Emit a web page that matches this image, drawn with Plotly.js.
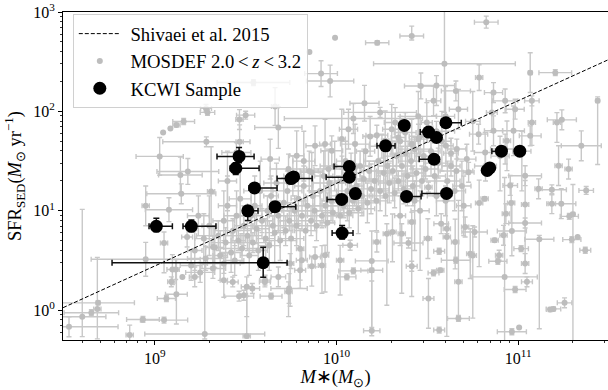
<!DOCTYPE html>
<html>
<head>
<meta charset="utf-8">
<script src="https://cdn.plot.ly/plotly-3.0.1.min.js"></script>
<style>html,body{margin:0;padding:0;background:#fff;}#chart{width:608px;height:390px;}</style>
</head>
<body>
<div id="chart"></div>
<script>
// ---- Shivaei et al. 2015 relation (end points) ----
const shivaeiMass = [3.13e8, 3.12e11];
const shivaeiSFR = [1.06, 330];

// ---- MOSDEF 2.0<z<3.2 sample (log10 values; errors in dex) ----
const mosdefLogMass = [
9.282,9.29,9.046,9.086,9.119,9.159,9.027,9.141,9.467,9.449,
9.284,9.50,9.466,9.543,9.182,9.31,9.078,9.146,8.95,9.40,
9.992,9.851,10.224,10.414,9.915,9.965,10.154,10.464,9.662,9.680,
10.093,10.594,10.066,10.323,10.24,10.45,9.635,9.781,9.82,9.882,
9.937,9.974,10.029,10.102,10.185,10.222,10.268,10.304,10.341,10.378,
10.414,10.451,10.497,9.736,9.864,9.956,10.102,10.824,11.066,11.204,
11.437,10.785,10.864,10.928,10.983,11.075,11.075,11.240,11.213,11.347,
11.277,11.222,11.066,11.038,10.938,10.864,10.818,10.782,10.727,10.657,
10.534,10.671,10.602,10.662,10.717,10.855,10.928,10.974,10.55,10.60,
10.75,10.90,11.02,10.55,10.63,10.82,11.374,11.237,11.281,11.301,
11.327,11.295,11.369,11.185,11.116,11.038,11.038,11.038,11.048,10.983,
11.016,10.965,10.961,10.932,10.925,10.919,10.870,10.895,10.888,10.815,
10.785,10.760,10.736,10.708,10.671,10.671,10.657,10.653,10.607,10.607,
10.565,10.571,10.534,10.506,10.565,10.503,10.576,10.965,11.005,11.176,
11.194,11.255,10.75,10.506,10.956,11.112,11.185,10.55,10.60,10.65,
10.70,10.194,10.093,10.057,10.194,10.194,10.414,10.396,10.308,10.277,
10.359,10.414,10.222,10.075,9.937,9.882,9.809,9.745,9.739,9.640,
9.680,9.607,9.537,9.506,9.506,9.736,9.800,9.864,10.020,9.800,
10.46,10.43,10.35,9.92,9.38,9.429,9.606,8.528,8.601,8.651,
8.684,8.688,8.950,8.862,8.935,9.051,9.097,9.115,9.091,9.064,
9.119,9.152,9.275,9.220,9.178,9.321,9.464,9.49,9.051,9.20,
9.22,9.25,9.27,9.28,9.30,9.24,9.32,9.33,9.35,9.36,
9.38,9.38,9.40,9.39,9.42,9.43,9.44,9.45,9.46,9.47,
9.48,9.49,9.51,9.52,9.53,9.54,9.55,9.56,9.57,9.58,
9.59,9.61,9.62,9.63,9.64,9.65,9.66,9.67,9.68,9.69,
9.71,9.72,9.73,9.74,9.75,9.76,9.77,9.78,9.79,9.81,
9.82,9.83,9.84,9.85,9.86,9.87,9.88,9.89,9.91,9.92,
9.93,9.94,9.95,9.96,9.97,9.98,9.99,10.01,10.02,10.03,
10.04,10.05,10.06,10.07,10.08,10.09,10.11,10.12,10.13,10.14,
10.15,10.16,10.17,10.18,10.19,10.21,10.22,10.23,10.24,10.25,
10.26,10.27,10.28,10.29,10.31,10.32,10.33,10.34,10.35,10.36,
10.37,10.38,10.39,10.41,10.42,10.43,10.44,10.46,10.47,10.48,
10.49,10.52,10.54,10.56,10.58,10.61,10.63,10.66,10.69
];
const mosdefLogSFR = [
2.03,1.99,1.787,1.828,1.862,1.898,1.547,1.360,1.694,1.587,
1.694,1.962,1.918,2.29,1.396,1.195,1.011,1.171,1.05,1.30,
2.741,2.597,2.691,2.758,2.380,2.306,2.082,2.256,2.049,1.838,
1.928,2.480,1.821,1.888,1.99,1.95,1.520,1.554,1.50,1.654,
1.671,1.604,1.721,1.671,1.748,1.761,1.704,1.821,1.738,1.788,
1.671,1.721,1.888,1.420,1.387,1.420,1.437,2.898,2.390,2.390,
2.106,2.340,2.189,2.106,2.022,2.106,1.888,1.915,1.888,1.654,
1.420,1.454,1.754,1.353,1.704,1.805,1.587,1.771,1.387,2.206,
2.106,2.022,1.654,1.621,1.520,1.989,1.621,1.805,2.26,1.95,
1.90,1.55,1.60,1.80,1.45,1.45,1.205,1.071,0.944,0.964,
0.736,0.710,0.603,1.071,0.713,1.064,0.877,0.469,0.285,0.208,
0.619,0.797,1.078,0.971,0.335,0.753,0.703,0.553,0.492,1.121,
1.078,0.787,0.569,0.837,0.285,-0.083,0.502,0.686,0.820,0.736,
0.593,0.402,0.375,0.118,-0.200,0.720,0.870,-0.217,-0.173,0.007,
0.013,0.074,0.55,1.238,1.255,1.221,1.211,1.15,1.10,1.20,
1.05,-0.207,0.395,0.335,0.496,0.402,0.442,0.676,0.787,0.770,
0.770,0.887,0.686,0.653,0.553,0.536,0.502,0.469,0.218,0.141,
0.335,0.302,0.218,0.235,-0.260,0.185,0.402,0.442,0.502,0.619,
1.0,1.1,0.95,0.45,0.30,0.284,0.284,-0.167,-0.066,-0.026,
0.011,0.074,0.512,-0.250,-0.093,0.676,0.409,0.409,0.285,0.118,
0.161,0.335,-0.240,0.335,0.736,0.636,0.141,0.15,-0.100,0.45,
0.60,0.38,0.72,0.52,0.85,0.95,0.42,0.63,0.75,0.55,
0.90,0.47,1.05,0.68,0.58,0.80,0.50,0.95,0.70,1.12,
0.62,0.85,0.75,0.55,0.95,0.68,1.05,0.82,0.60,1.20,
0.90,0.72,1.00,0.65,1.15,0.85,0.78,1.28,0.95,0.70,
1.08,0.80,1.20,0.90,0.72,1.35,1.00,0.85,1.12,0.95,
1.25,0.80,1.05,1.40,0.90,1.15,1.00,0.85,1.20,0.95,
1.35,1.05,0.88,1.28,1.10,0.98,1.45,1.15,0.95,1.30,
1.05,1.50,1.20,0.98,1.38,1.10,1.25,1.02,1.45,1.15,
1.32,1.60,1.08,1.40,1.22,1.30,1.10,1.50,1.20,1.65,
1.38,1.15,1.45,1.28,1.40,1.18,1.55,1.30,1.70,1.45,
1.22,1.58,1.35,1.50,1.25,1.62,1.38,1.75,1.30,1.55,
1.42,1.60,1.35,1.48,1.70,1.30,1.58,1.40,1.25
];
const mosdefMassErrDex = [
0.03,0.04,0,0,0.02,0.06,0.13,0.12,0.02,0.08,
0.24,0.05,0.02,0.2,0.17,0.02,0.13,0.19,0.02,0.05,
0,0,0.064,0.065,0.09,0.13,0.08,0.09,0.02,0.13,
0.38,0.39,0.05,0.06,0.2,0.1,0.05,0.04,0.06,0.05,
0.03,0.06,0.02,0.08,0.04,0.06,0.02,0.05,0.04,0.06,
0.02,0.05,0.03,0.1,0.06,0.08,0.05,0.065,0.01,0.09,
0.01,0.02,0.05,0.07,0.05,0.04,0.02,0.08,0.02,0.11,
0.02,0.02,0.06,0.09,0.02,0.05,0.06,0.05,0.03,0.08,
0.04,0.05,0.04,0.05,0.05,0.03,0.08,0.06,0.1,0.05,
0.04,0.05,0.05,0.1,0.05,0.06,0.04,0.08,0.05,0.01,
0,0.05,0.03,0.02,0.08,0.02,0.09,0.02,0.03,0.06,
0.04,0.08,0.02,0.02,0.18,0.02,0.02,0.02,0.05,0.02,
0.02,0.07,0.02,0.02,0.02,0.06,0.08,0.02,0.02,0.02,
0.03,0.02,0.03,0.03,0.03,0.02,0.04,0.08,0,0.02,
0.04,0.04,0.02,0.02,0.04,0.02,0.08,0.05,0.05,0.06,
0.04,0.045,0.08,0.05,0.09,0.06,0.03,0.08,0.02,0.02,
0.02,0.02,0.02,0.04,0.02,0.03,0.03,0.02,0.1,0.06,
0.04,0.03,0.04,0.03,0.02,0.02,0.03,0.02,0.02,0.02,
0.05,0.03,0.03,0.02,0.02,0.03,0.03,0.27,0.13,0.15,
0.02,0.2,0.3,0.02,0.09,0.02,0.03,0.02,0.02,0.05,
0.06,0,0.33,0.03,0.03,0.02,0.08,0.02,0.13,0.06,
0.04,0.08,0.05,0.1,0.04,0.06,0.07,0.05,0.12,0.04,
0.06,0.09,0.05,0.08,0.06,0.1,0.05,0.07,0.04,0.06,
0.12,0.05,0.08,0.05,0.06,0.1,0.04,0.07,0.05,0.09,
0.06,0.05,0.08,0.06,0.04,0.11,0.05,0.07,0.05,0.09,
0.06,0.04,0.08,0.05,0.07,0.05,0.1,0.06,0.04,0.08,
0.05,0.06,0.09,0.05,0.07,0.04,0.1,0.05,0.06,0.08,
0.05,0.07,0.04,0.09,0.05,0.06,0.08,0.05,0.07,0.04,
0.1,0.05,0.06,0.08,0.05,0.07,0.04,0.09,0.05,0.06,
0.08,0.05,0.07,0.04,0.1,0.05,0.06,0.08,0.05,0.07,
0.04,0.09,0.05,0.06,0.08,0.05,0.07,0.04,0.1,0.05,
0.06,0.08,0.05,0.07,0.04,0.09,0.05,0.06,0.08,0.05,
0.07,0.05,0.06,0.08,0.05,0.07,0.04,0.09,0.05
];
const mosdefSFRErrLoDex = [
0.03,0.03,0,0,0.02,0.03,0.19,0.18,0.17,0.1,
0.05,0.04,0.1,0.03,0.13,0.45,0.12,0.1,0.2,0.3,
0,0,0.02,0.04,0.13,0.16,0.18,0.13,0.19,0.21,
0.15,0.49,0.2,0.15,0.05,0.25,0.2,0.25,0.2,0.2,
0.25,0.15,0.3,0.2,0.2,0.1,0.3,0.25,0.15,0.2,
0.25,0.15,0.2,0.15,0.2,0.2,0.25,0.06,0.2,0.03,
0.64,0.13,0.1,0.12,0.1,0.05,0.23,0.1,0.2,0.15,
0.1,0.2,0.1,0.1,0.3,0.15,0.2,0.1,0.1,0.1,
0.15,0.2,0.2,0.1,0.15,0.2,0.15,0.25,0.2,0.3,
0.3,0.35,0.4,0.1,0.1,0.15,0.04,0.15,0.03,1.3,
0,0.03,0.03,0.1,0.9,0.6,0.05,0.1,0.05,0.03,
0.03,0.25,0.2,0.1,0.65,0.1,0.02,0.05,0.03,0.02,
0.64,0.05,0.25,0.1,0.35,0.03,0.03,0.27,0.05,1.0,
0.03,0.02,0.03,0.3,0.03,0.2,0.1,0.03,0,0.02,
0.02,0.05,0.63,0.05,0.1,0.1,0.05,0.2,0.15,0.2,
0.3,0.05,0.03,0.03,0.67,0.02,0.05,0.05,0.3,0.72,
0.6,0.75,0.1,0.05,0.37,0.1,0.1,0.43,0.15,0.03,
0.1,0.05,0.05,0.3,0.02,0.25,0.1,0.2,0.35,0.4,
0.6,0.5,0.3,0.28,0.17,0.05,0.05,0.1,0.2,0.03,
0.3,0.02,0.17,0.1,0.03,0.3,0.15,0.1,0.05,0.03,
0.3,0,0.05,0.1,0.1,0.2,0.05,0.05,0.03,0.15,
0.2,0.1,0.25,0.12,0.3,0.2,0.1,0.2,0.15,0.25,
0.2,0.1,0.3,0.15,0.2,0.12,0.15,0.25,0.1,0.3,
0.15,0.2,0.15,0.2,0.25,0.1,0.3,0.15,0.2,0.2,
0.12,0.2,0.15,0.25,0.2,0.1,0.3,0.2,0.15,0.2,
0.25,0.15,0.2,0.1,0.3,0.2,0.15,0.2,0.25,0.15,
0.2,0.3,0.1,0.2,0.15,0.25,0.2,0.15,0.2,0.12,
0.25,0.2,0.3,0.15,0.2,0.1,0.25,0.2,0.15,0.25,
0.12,0.2,0.3,0.15,0.2,0.1,0.2,0.25,0.15,0.2,
0.3,0.15,0.2,0.1,0.25,0.2,0.3,0.15,0.2,0.12,
0.25,0.2,0.15,0.2,0.3,0.15,0.2,0.1,0.25,0.2,
0.15,0.2,0.3,0.15,0.2,0.12,0.25,0.2,0.15,0.2,
0.1,0.25,0.2,0.15,0.3,0.2,0.15,0.2,0.25
];
const mosdefSFRErrHiDex = [
0.04,0.03,0,0,0.02,0.03,0.19,0.18,0.17,0.1,
0.05,0.04,0.1,0.03,0.13,0.45,0.12,0.1,0.2,0.3,
0,0,0.02,0.1,0.13,0.16,0.18,0.13,0.19,0.21,
0.15,0.55,0.2,0.15,0.05,0.25,0.2,0.25,0.3,0.2,
0.25,0.15,0.3,0.2,0.2,0.1,0.3,0.25,0.15,0.2,
0.25,0.15,0.2,0.15,0.2,0.2,0.25,0.06,0.2,0.03,
0.04,0.13,0.1,0.12,0.1,0.05,0.23,0.1,0.1,0.15,
0.1,0.2,0.1,0.1,0.2,0.15,0.2,0.1,0.1,0.1,
0.15,0.2,0.2,0.1,0.15,0.2,0.15,0.25,0.1,0.3,
0.3,0.2,0.2,0.1,0.1,0.15,0.04,0.15,0.03,0.3,
0,0.03,0.03,0.1,0.04,0.24,0.05,0.1,0.05,0.03,
0.03,0.3,0.2,0.1,1.0,0.1,0.02,0.05,0.03,0.02,
0.23,0.05,0.25,0.1,0.82,0.03,0.03,0.23,0.05,0.55,
0.03,0.02,0.03,0.2,0.03,0.2,0.1,0.03,0,0.02,
0.02,0.05,0.3,0.05,0.1,0.1,0.05,0.2,0.15,0.2,
0.3,0.5,0.03,0.03,0.3,0.02,0.05,0.05,0.18,0.1,
0.1,0.1,0.1,0.05,0.1,0.1,0.1,0.1,0.15,0.03,
0.1,0.05,0.05,0.1,0.4,0.1,0.1,0.1,0.15,0.2,
0.2,0.2,0.2,0.2,0.15,0.05,0.05,0.1,1.08,0.03,
0.52,0.02,0.17,0.1,0.03,0.11,0.15,0.1,0.05,0.03,
0.35,0,0.7,0.1,0.1,0.2,0.05,0.05,0.03,0.15,
0.2,0.1,0.25,0.12,0.3,0.2,0.1,0.2,0.15,0.25,
0.3,0.1,0.3,0.15,0.2,0.12,0.15,0.25,0.1,0.3,
0.15,0.2,0.15,0.2,0.25,0.1,0.3,0.15,0.2,0.3,
0.12,0.2,0.15,0.25,0.2,0.1,0.3,0.2,0.15,0.2,
0.25,0.15,0.2,0.1,0.3,0.2,0.15,0.2,0.25,0.15,
0.2,0.3,0.1,0.2,0.15,0.25,0.2,0.15,0.2,0.12,
0.25,0.2,0.3,0.15,0.2,0.1,0.25,0.2,0.15,0.25,
0.12,0.2,0.3,0.15,0.2,0.1,0.2,0.25,0.15,0.2,
0.3,0.15,0.2,0.1,0.25,0.2,0.3,0.15,0.2,0.12,
0.25,0.2,0.15,0.2,0.3,0.15,0.2,0.1,0.25,0.2,
0.15,0.2,0.3,0.15,0.2,0.12,0.25,0.2,0.15,0.2,
0.1,0.25,0.2,0.15,0.3,0.2,0.15,0.2,0.25
];

// ---- KCWI sample ----
const kcwiMass = [1.02e9,1.59e9,2.91e9,2.79e9,5.62e9,5.81e9,3.54e9,3.25e9,4.59e9,3.95e9,1.074e10,1.067e10,1.27e10,1.176e10,1.176e10,1.862e10,2.36e10,3.21e10,3.55e10,4.0e10,3.44e10,2.43e10,4.03e10,6.75e10,6.97e10,8.08e10,1.02e11];
const kcwiSFR = [6.97,6.97,35.2,26.8,21.1,21.9,17.0,10.0,11.0,3.0,5.97,13.0,14.9,27.9,21.8,45.0,72.3,62.0,54.6,76.9,33.0,13.95,14.95,25.5,27.0,39.8,39.8];
const kcwiMassLo = [9.3e8,1.43e9,2.2e9,2.6e9,4.71e9,5.81e9,3.3e9,3.05e9,4.3e9,5.82e8,9.46e9,8.87e9,1.27e10,9.7e9,8.77e9,1.67e10,2.36e10,2.89e10,3.55e10,3.75e10,2.85e10,2.28e10,2.95e10,6.75e10,6.97e10,7.16e10,1.02e11];
const kcwiMassHi = [1.25e9,2.17e9,3.52e9,3.75e9,7.35e9,5.81e9,4.71e9,3.7e9,5.97e9,5.35e9,1.233e10,1.14e10,1.27e10,1.25e10,1.25e10,2.1e10,2.36e10,3.42e10,3.55e10,4.86e10,3.66e10,2.92e10,4.3e10,6.75e10,6.97e10,8.6e10,1.02e11];
const kcwiSFRLo = [6.2,6.2,30.5,23.2,21.1,21.9,17.0,8.0,11.0,2.14,5.2,13.0,14.9,27.9,21.8,45.0,72.3,62.0,54.6,76.9,33.0,13.95,14.95,25.5,27.0,39.8,39.8];
const kcwiSFRHi = [8.4,8.1,43.3,30.5,21.1,21.9,17.0,11.2,11.0,4.29,7.13,13.0,14.9,27.9,21.8,45.0,72.3,62.0,54.6,76.9,33.0,13.95,14.95,25.5,27.0,39.8,39.8];

// ---- tick labels ----
const xTickVals = [1e9, 1e10, 1e11];
const xTickText = ['10<sup>9</sup>', '10<sup>10</sup>', '10<sup>11</sup>'];
const yTickVals = [1, 10, 100, 1000];
const yTickText = ['10<sup>0</sup>', '10<sup>1</sup>', '10<sup>2</sup>', '10<sup>3</sup>'];

// ---- build traces ----
const pw = v => Math.pow(10, v);
const mX = mosdefLogMass.map(pw);
const mY = mosdefLogSFR.map(pw);
const mXp = mosdefLogMass.map((v,i) => pw(v + mosdefMassErrDex[i]) - pw(v));
const mXm = mosdefLogMass.map((v,i) => pw(v) - pw(v - mosdefMassErrDex[i]));
const mYp = mosdefLogSFR.map((v,i) => pw(v + mosdefSFRErrHiDex[i]) - pw(v));
const mYm = mosdefLogSFR.map((v,i) => pw(v) - pw(v - mosdefSFRErrLoDex[i]));

const serif = 'Liberation Serif, Times New Roman, serif';
const thin = '\u2009';

const traces = [
  {
    type: 'scatter', mode: 'markers', name: '&nbsp;MOSDEF 2.0' + thin + '&lt;' + thin + '<i>z</i>' + thin + '&lt;' + thin + '3.2', legendrank: 2,
    x: mX, y: mY, hoverinfo: 'skip',
    marker: {color: '#bdbdbd', size: 6},
    error_x: {type: 'data', symmetric: false, array: mXp, arrayminus: mXm, color: '#c8c8c8', thickness: 1.4, width: 2.5},
    error_y: {type: 'data', symmetric: false, array: mYp, arrayminus: mYm, color: '#c8c8c8', thickness: 1.4, width: 2.5}
  },
  {
    type: 'scatter', mode: 'lines', name: '&nbsp;Shivaei et al. 2015', legendrank: 1,
    x: shivaeiMass, y: shivaeiSFR, hoverinfo: 'skip',
    line: {color: 'black', width: 1, dash: '4px,2px'}
  },
  {
    type: 'scatter', mode: 'markers', name: '&nbsp;KCWI Sample', legendrank: 3,
    x: kcwiMass, y: kcwiSFR, hoverinfo: 'skip',
    marker: {color: 'black', size: 13},
    error_x: {type: 'data', symmetric: false,
      array: kcwiMass.map((v,i) => kcwiMassHi[i] - v),
      arrayminus: kcwiMass.map((v,i) => v - kcwiMassLo[i]),
      color: '#111', thickness: 1.5, width: 3},
    error_y: {type: 'data', symmetric: false,
      array: kcwiSFR.map((v,i) => kcwiSFRHi[i] - v),
      arrayminus: kcwiSFR.map((v,i) => v - kcwiSFRLo[i]),
      color: '#111', thickness: 1.5, width: 3}
  }
];

function minorVals(d0, d1) {
  const out = [];
  for (let d = d0; d <= d1; d++) for (let k = 2; k <= 9; k++) out.push(k * Math.pow(10, d));
  return out;
}

const axisCommon = {
  type: 'log', showline: true, linecolor: 'black', linewidth: 1, mirror: true,
  ticks: 'outside', ticklen: 4, tickwidth: 1, tickcolor: 'black',
  showgrid: false, zeroline: false, tickmode: 'array',
  tickfont: {family: serif, size: 16, color: 'black'}
};

const layout = {
  width: 608, height: 390,
  margin: {l: 63, r: 0, t: 12, b: 50},
  paper_bgcolor: 'white', plot_bgcolor: 'white',
  showlegend: true,
  legend: {
    x: 0.018, y: 0.994, xanchor: 'left', yanchor: 'top',
    bgcolor: 'rgba(255,255,255,0.8)', bordercolor: '#d0d0d0', borderwidth: 1,
    font: {family: serif, size: 18.7, color: 'black'}, itemwidth: 42, traceorder: 'normal'
  },
  xaxis: Object.assign({}, axisCommon, {
    range: [8.495, 11.494], tickvals: xTickVals, ticktext: xTickText,
    minor: {tickmode: 'array', tickvals: minorVals(8, 11), ticks: 'outside', ticklen: 2, tickwidth: 0.8, tickcolor: 'black', showgrid: false},
    title: {text: '<i>M</i>∗(<i>M</i><sub>⊙</sub>)', font: {family: serif, size: 18.5, color: 'black'}, standoff: 3}
  }),
  yaxis: Object.assign({}, axisCommon, {
    range: [-0.3, 3.0], tickvals: yTickVals, ticktext: yTickText,
    minor: {tickmode: 'array', tickvals: minorVals(-1, 2), ticks: 'outside', ticklen: 2, tickwidth: 0.8, tickcolor: 'black', showgrid: false},
    title: {text: 'SFR<sub>SED</sub>(<i>M</i><sub>⊙</sub> yr<sup>−1</sup>)', font: {family: serif, size: 18.5, color: 'black'}, standoff: 6}
  })
};

Plotly.newPlot('chart', traces, layout, {displayModeBar: false, staticPlot: true});
</script>
</body>
</html>
